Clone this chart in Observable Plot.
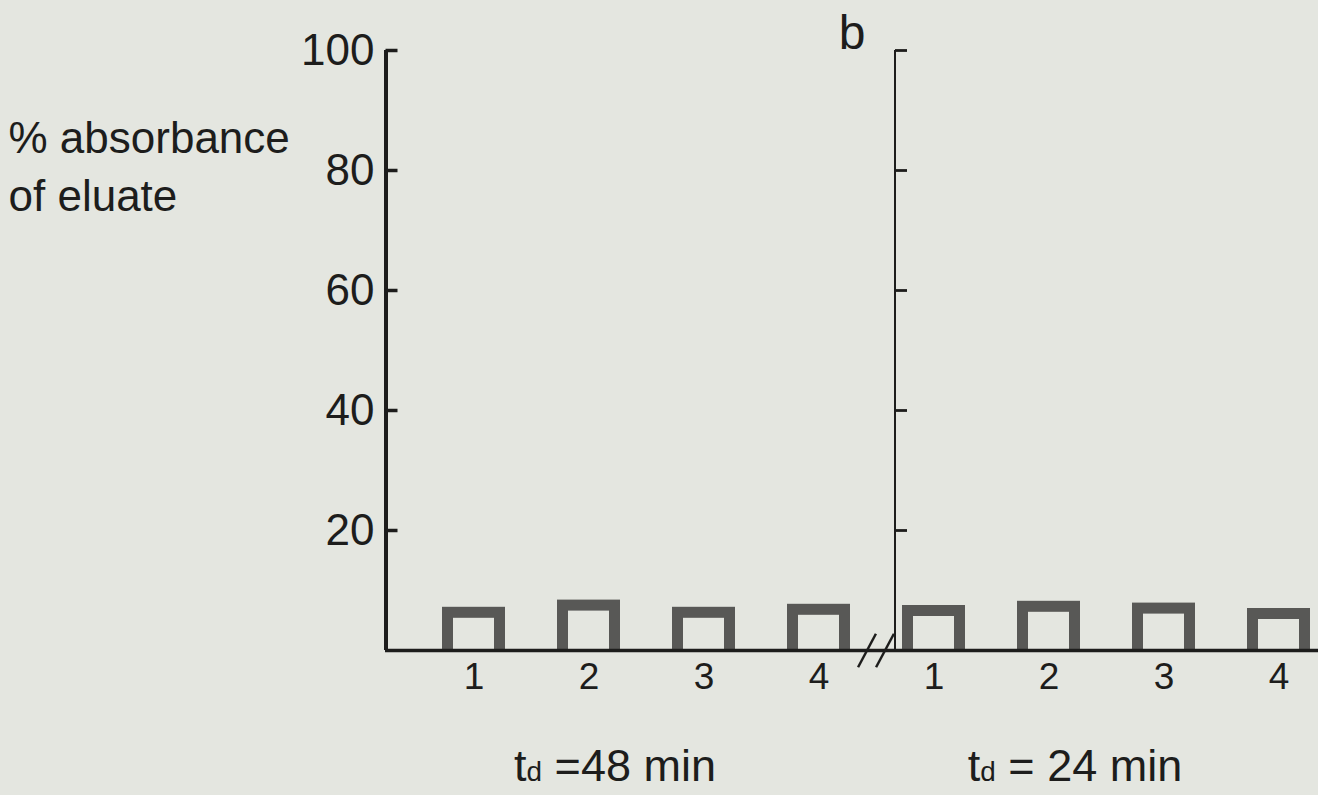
<!DOCTYPE html>
<html>
<head>
<meta charset="utf-8">
<script src="https://cdn.jsdelivr.net/npm/d3@7"></script>
<script src="https://cdn.jsdelivr.net/npm/@observablehq/plot@0.6"></script>
<style>
  html, body { margin: 0; padding: 0; background: #e4e6e0; }
  #chart { width: 1318px; height: 795px; overflow: hidden; }
</style>
</head>
<body>
<div id="chart"></div>
<script>
// Eluate absorbance for four samples at two doubling times
const sampleIds = ["1", "2", "3", "4"];
const timeKeys = ["48", "24"];
const groupLabels = ["td =48 min", "td = 24 min"];
const absorbance48 = [7.2, 8.4, 7.2, 7.7];
const absorbance24 = [7.5, 8.2, 7.9, 7.0];
const yTicks = [20, 40, 60, 80, 100];
const panelLetter = "b";
const yLabel = "% absorbance\nof eluate";

const series = [absorbance48, absorbance24];
const rows = timeKeys.flatMap((t, ti) =>
  sampleIds.map((s, i) => ({key: `${t}-${s}`, sample: s, value: series[ti][i]}))
);
const groups = timeKeys.map((t, ti) => ({key: `${t}-2`, label: groupLabels[ti]}));

const bg = "#e4e6e0";
const ink = "#1d1d1c";
const wall = "#585856";

// plain line segment used for ticks and break marks
const segment = {draw(context, l) { context.moveTo(0, 0); context.lineTo(0, -l); }};

const chart = Plot.plot({
  width: 1318,
  height: 795,
  marginLeft: 385,
  marginRight: 0,
  marginTop: 50,
  marginBottom: 145,
  style: {background: bg, color: ink, fontFamily: "'Liberation Sans', Arial, sans-serif"},
  x: {domain: rows.map(d => d.key), range: [441, 1312], paddingInner: 0.45, paddingOuter: 0, axis: null},
  y: {domain: [0, 100], axis: null},
  marks: [
    // hollow bars: dark block with a background-coloured core, open at the base
    Plot.barY(rows, {x: "key", y: "value", fill: wall}),
    Plot.barY(rows, {x: "key", y: "value", fill: bg, insetLeft: 11, insetRight: 11, insetTop: 11}),
    // baseline
    Plot.ruleY([0], {stroke: ink, strokeWidth: 3.5}),
    // left axis line with inward ticks
    Plot.ruleX([rows[0].key], {y1: 0, y2: 100, dx: -88, stroke: ink, strokeWidth: 4}),
    Plot.vector(yTicks, {y: d => d, frameAnchor: "left", rotate: 90, length: 12, anchor: "start",
      shape: segment, stroke: ink, strokeWidth: 3.5, strokeLinecap: "butt"}),
    Plot.axisY(yTicks, {tickSize: 0, tickPadding: 11, fontSize: 44, label: null}),
    // second axis for the 24 min panel
    Plot.ruleX([rows[4].key], {y1: 0, y2: 100, dx: -39, stroke: ink, strokeWidth: 2}),
    Plot.vector(yTicks, {x: () => rows[4].key, y: d => d, dx: -39, rotate: 90, length: 12, anchor: "start",
      shape: segment, stroke: ink, strokeWidth: 2.8, strokeLinecap: "butt"}),
    // axis break
    Plot.vector([-9, 9], {x: () => rows[3].key, y: () => 0, dx: 57, rotate: 28, length: 38, anchor: "middle",
      shape: segment, stroke: ink, strokeWidth: 2.5, strokeLinecap: "butt",
      render(index, scales, values, dims, ctx, next) {
        const g = next(index, scales, values, dims, ctx);
        d3.select(g).selectAll("path").attr("transform", function(d, i) {
          const t = this.getAttribute("transform") || "";
          return `translate(${i === 0 ? -9 : 9},0) ${t}`;
        });
        return g;
      }}),
    // sample numbers
    Plot.axisX({tickSize: 0, tickPadding: 12, fontSize: 37, label: null, tickFormat: k => k.split("-")[1]}),
    // doubling-time captions
    Plot.text(groups, {x: "key", text: "label", frameAnchor: "bottom", dy: 130, dx: 26, fontSize: 45}),
    // panel letter
    Plot.text([panelLetter], {x: () => rows[4].key, text: d => d, frameAnchor: "top", dx: -82, dy: -36,
      lineAnchor: "top", fontSize: 48}),
    // y label
    Plot.text([yLabel], {text: d => d, frameAnchor: "top-left", dx: -377, dy: 61, textAnchor: "start",
      lineAnchor: "top", lineHeight: 1.32, fontSize: 44})
  ]
});

// smaller "d" in the td captions
d3.select(chart).selectAll("text").filter(function() {
  return this.textContent.startsWith("td");
}).each(function() {
  const full = this.textContent;
  const sel = d3.select(this).text("");
  sel.append("tspan").text("t");
  sel.append("tspan").attr("font-size", "0.62em").text("d");
  sel.append("tspan").text(full.slice(2));
});

document.getElementById("chart").append(chart);
</script>
</body>
</html>
